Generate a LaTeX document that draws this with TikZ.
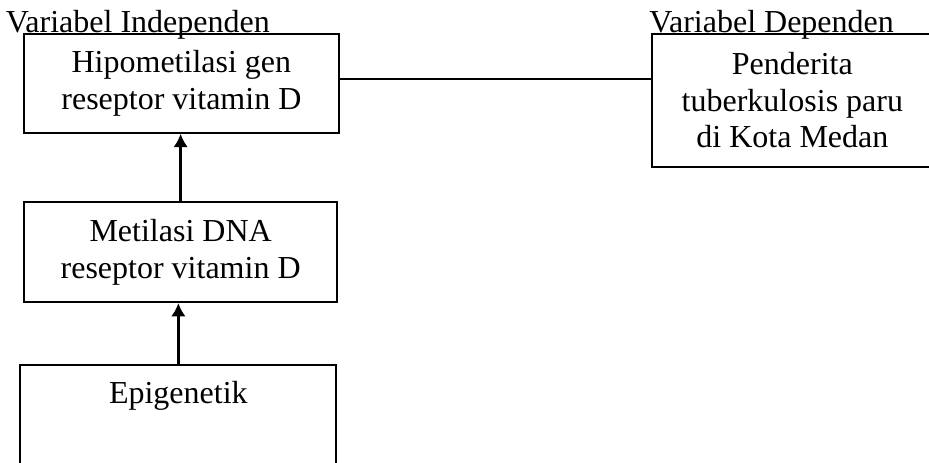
\documentclass[tikz,border=0pt]{standalone}
\usepackage{fontspec}
\setmainfont{Liberation Serif}
\usetikzlibrary{arrows.meta}
\tikzset{
  box/.style = {draw, line width = 0.75pt, align = center, inner sep = 0pt,
                font = \fontsize{12}{13.8}\selectfont},
  varlabel/.style = {anchor = base west, inner sep = 0pt,
                font = \fontsize{12}{13.8}\selectfont},
  arrow/.style = {line width = 1.1pt, -{Latex[length = 5pt, width = 5.5pt]}}
}
\begin{document}
\begin{tikzpicture}
                    \useasboundingbox (0, 0) rectangle (12.24, 6.10);
                    \node[box, minimum width = 4.15cm, minimum height = 1.30cm] (hipo) at (2.39, 5.00) {Hipometilasi gen\\reseptor vitamin D};
                    \node[box, minimum width = 4.12cm, minimum height = 1.32cm] (metil) at (2.38, 2.78) {Metilasi DNA\\reseptor vitamin D};
                    \node[box, minimum width = 4.16cm, text height = 0.50cm, text depth = 1.0cm, anchor = north] (epi) at (2.35, 1.30) {Epigenetik};
                    \node[box, minimum width = 3.69cm, minimum height = 1.75cm] (pend) at (10.44, 4.78) {Penderita\\tuberkulosis paru\\di Kota Medan};
                    \node[varlabel] (indep) at (0.07, 5.67) {Variabel Independen};
                    \node[varlabel] (dep) at (8.55, 5.67) {Variabel Dependen};
                    
                    \coordinate (link) at ([yshift = 0.06cm]hipo.east);
                    \draw[line width = 0.75pt] (link) -- (link -| pend.west);
                    \draw[arrow] (metil.north) -- (metil.north |- hipo.south);
                    \draw[arrow] (epi.north) -- (epi.north |- metil.south);
                \end{tikzpicture}
\end{document}
